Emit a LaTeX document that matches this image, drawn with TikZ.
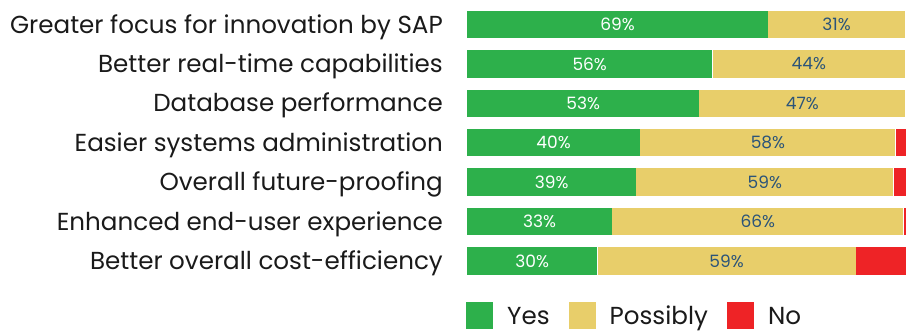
\documentclass[tikz,border=0pt]{standalone}
\usepackage{fontspec}
\setmainfont{Poppins}
\usetikzlibrary{positioning}
\definecolor{yescol}{HTML}{2DB04B}
\definecolor{maybecol}{HTML}{E8CE6A}
\definecolor{nocol}{HTML}{EE2326}
\definecolor{pcttext}{HTML}{2B5479}
\definecolor{labeltext}{HTML}{1A1A1A}
\tikzset{
    x=1pt, y=1pt, % one unit is one pixel of the reference
    node distance=0pt, % bar segments touch each other
    seg/.style={inner sep=0pt, minimum height=27.5pt, font=\fontsize{17}{17}\selectfont}, % every bar segment
    share/.style={minimum width=#1*4.375pt}, % width of a segment in percent
    yesbar/.style={seg, fill=yescol, text=white},
    maybebar/.style={seg, fill=maybecol, text=pcttext},
    nobar/.style={seg, fill=nocol},
    rowlabel/.style={inner sep=0pt, text=labeltext, font=\fontsize{24.6}{24.6}\selectfont,
        text height=17.4pt, text depth=0pt}, % text left of a bar, caps centred on the bar
    key/.style={minimum size=26.5pt, inner sep=0pt}, % legend squares
}

\begin{document}
\begin{tikzpicture}
    \useasboundingbox (0,0) rectangle (909,-334);
    % row 1
    \node[yesbar, share=68.7, anchor=west] (y1) at (467,-24.5) {69\%};
    \node[maybebar, share=31.3, right=of y1] (p1) {31\%};
    \node[rowlabel, left=24pt of y1] (l1) {Greater focus for innovation by SAP};
    % row 2
    \node[yesbar, share=56, anchor=west] (y2) at (467,-63.9) {56\%};
    \node[maybebar, share=44, right=of y2] (p2) {44\%};
    \node[rowlabel, left=24pt of y2] (l2) {Better real-time capabilities};
    % row 3
    \node[yesbar, share=53, anchor=west] (y3) at (467,-103.3) {53\%};
    \node[maybebar, share=47, right=of y3] (p3) {47\%};
    \node[rowlabel, left=24pt of y3] (l3) {Database performance};
    % row 4
    \node[yesbar, share=39.5, anchor=west] (y4) at (467,-142.7) {40\%};
    \node[maybebar, share=58.3, right=of y4] (p4) {58\%};
    \node[nobar, share=2.2, right=of p4] (n4) {};
    \node[rowlabel, left=24pt of y4] (l4) {Easier systems administration};
    % row 5
    \node[yesbar, share=38.6, anchor=west] (y5) at (467,-182.1) {39\%};
    \node[maybebar, share=58.7, right=of y5] (p5) {59\%};
    \node[nobar, share=2.7, right=of p5] (n5) {};
    \node[rowlabel, left=24pt of y5] (l5) {Overall future-proofing};
    % row 6
    \node[yesbar, share=33.1, anchor=west] (y6) at (467,-221.5) {33\%};
    \node[maybebar, share=66.5, right=of y6] (p6) {66\%};
    \node[nobar, share=0.4, right=of p6] (n6) {};
    \node[rowlabel, left=24pt of y6] (l6) {Enhanced end-user experience};
    % row 7
    \node[yesbar, share=29.7, anchor=west] (y7) at (467,-260.9) {30\%};
    \node[maybebar, share=59, right=of y7] (p7) {59\%};
    \node[nobar, share=11.3, right=of p7] (n7) {};
    \node[rowlabel, left=24pt of y7] (l7) {Better overall cost-efficiency};
    % legend
    \node[key, fill=yescol] (kyes) at (479.5,-315.5) {};
    \node[rowlabel, right=14pt of kyes] (tyes) {Yes};
    \node[key, fill=maybecol] (kmaybe) at (582.5,-315.5) {};
    \node[rowlabel, right=13.5pt of kmaybe] (tmaybe) {Possibly};
    \node[key, fill=nocol] (kno) at (740.5,-315.5) {};
    \node[rowlabel, right=14pt of kno] (tno) {No};
\end{tikzpicture}
\end{document}
